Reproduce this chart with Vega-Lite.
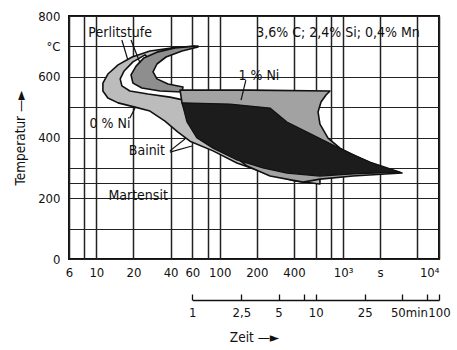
{
  "$schema": "https://vega.github.io/schema/vega-lite/v6.json",
  "width": 370,
  "height": 243,
  "autosize": "none",
  "padding": {"left": 69, "top": 16, "right": 18, "bottom": 91},
  "background": "white",
  "config": {
    "font": "DejaVu Sans Condensed",
    "view": {"stroke": "#111", "strokeWidth": 2}
  },
  "datasets": {
    "shapes": [
      {"shape": "light", "i": 1, "t": 63.0, "T": 701},
      {"shape": "light", "i": 2, "t": 41.8, "T": 695},
      {"shape": "light", "i": 3, "t": 27.2, "T": 685},
      {"shape": "light", "i": 4, "t": 19.5, "T": 665},
      {"shape": "light", "i": 5, "t": 15.0, "T": 639},
      {"shape": "light", "i": 6, "t": 12.4, "T": 609},
      {"shape": "light", "i": 7, "t": 11.3, "T": 579},
      {"shape": "light", "i": 8, "t": 11.3, "T": 553},
      {"shape": "light", "i": 9, "t": 12.4, "T": 530},
      {"shape": "light", "i": 10, "t": 15.0, "T": 514},
      {"shape": "light", "i": 11, "t": 20.6, "T": 500},
      {"shape": "light", "i": 12, "t": 27.2, "T": 487},
      {"shape": "light", "i": 13, "t": 36.0, "T": 454},
      {"shape": "light", "i": 14, "t": 45.9, "T": 418},
      {"shape": "light", "i": 15, "t": 57.4, "T": 388},
      {"shape": "light", "i": 16, "t": 88.3, "T": 356},
      {"shape": "light", "i": 17, "t": 138, "T": 316},
      {"shape": "light", "i": 18, "t": 233, "T": 283},
      {"shape": "light", "i": 19, "t": 408, "T": 257},
      {"shape": "light", "i": 20, "t": 650, "T": 247},
      {"shape": "light", "i": 21, "t": 650, "T": 273},
      {"shape": "light", "i": 22, "t": 351, "T": 286},
      {"shape": "light", "i": 23, "t": 224, "T": 306},
      {"shape": "light", "i": 24, "t": 138, "T": 332},
      {"shape": "light", "i": 25, "t": 88.3, "T": 372},
      {"shape": "light", "i": 26, "t": 65.5, "T": 405},
      {"shape": "light", "i": 27, "t": 55.3, "T": 458},
      {"shape": "light", "i": 28, "t": 51.4, "T": 510},
      {"shape": "light", "i": 29, "t": 50.4, "T": 540},
      {"shape": "light", "i": 30, "t": 39.5, "T": 566},
      {"shape": "light", "i": 31, "t": 31.6, "T": 583},
      {"shape": "light", "i": 32, "t": 27.2, "T": 606},
      {"shape": "light", "i": 33, "t": 28.3, "T": 635},
      {"shape": "light", "i": 34, "t": 34.1, "T": 662},
      {"shape": "light", "i": 35, "t": 47.7, "T": 685},

      {"shape": "white", "i": 1, "t": 24.8, "T": 672},
      {"shape": "white", "i": 2, "t": 19.8, "T": 649},
      {"shape": "white", "i": 3, "t": 16.8, "T": 619},
      {"shape": "white", "i": 4, "t": 15.6, "T": 593},
      {"shape": "white", "i": 5, "t": 16.1, "T": 570},
      {"shape": "white", "i": 6, "t": 18.7, "T": 553},
      {"shape": "white", "i": 7, "t": 26.2, "T": 543},
      {"shape": "white", "i": 8, "t": 39.5, "T": 533},
      {"shape": "white", "i": 9, "t": 51.4, "T": 523},
      {"shape": "white", "i": 10, "t": 53.3, "T": 550},
      {"shape": "white", "i": 11, "t": 32.8, "T": 573},
      {"shape": "white", "i": 12, "t": 22.6, "T": 606},
      {"shape": "white", "i": 13, "t": 27.2, "T": 655},

      {"shape": "mid", "i": 1, "t": 66.7, "T": 701},
      {"shape": "mid", "i": 2, "t": 43.4, "T": 695},
      {"shape": "mid", "i": 3, "t": 31.0, "T": 681},
      {"shape": "mid", "i": 4, "t": 24.3, "T": 662},
      {"shape": "mid", "i": 5, "t": 21.0, "T": 635},
      {"shape": "mid", "i": 6, "t": 19.1, "T": 606},
      {"shape": "mid", "i": 7, "t": 19.8, "T": 579},
      {"shape": "mid", "i": 8, "t": 23.4, "T": 563},
      {"shape": "mid", "i": 9, "t": 32.8, "T": 553},
      {"shape": "mid", "i": 10, "t": 49.5, "T": 550},
      {"shape": "mid", "i": 11, "t": 50.4, "T": 566},
      {"shape": "mid", "i": 12, "t": 38.1, "T": 576},
      {"shape": "mid", "i": 13, "t": 31.0, "T": 593},
      {"shape": "mid", "i": 14, "t": 28.8, "T": 616},
      {"shape": "mid", "i": 15, "t": 31.0, "T": 642},
      {"shape": "mid", "i": 16, "t": 36.7, "T": 665},
      {"shape": "mid", "i": 17, "t": 49.5, "T": 685},
      {"shape": "mid", "i": 18, "t": 66.7, "T": 698},

      {"shape": "plateau", "i": 1, "t": 47.7, "T": 556},
      {"shape": "plateau", "i": 2, "t": 176, "T": 556},
      {"shape": "plateau", "i": 3, "t": 784, "T": 553},
      {"shape": "plateau", "i": 4, "t": 728, "T": 540},
      {"shape": "plateau", "i": 5, "t": 663, "T": 517},
      {"shape": "plateau", "i": 6, "t": 627, "T": 484},
      {"shape": "plateau", "i": 7, "t": 650, "T": 444},
      {"shape": "plateau", "i": 8, "t": 756, "T": 398},
      {"shape": "plateau", "i": 9, "t": 945, "T": 365},
      {"shape": "plateau", "i": 10, "t": 1299, "T": 336},
      {"shape": "plateau", "i": 11, "t": 1995, "T": 303},
      {"shape": "plateau", "i": 12, "t": 3007, "T": 283},
      {"shape": "plateau", "i": 13, "t": 1205, "T": 273},
      {"shape": "plateau", "i": 14, "t": 650, "T": 263},
      {"shape": "plateau", "i": 15, "t": 474, "T": 253},
      {"shape": "plateau", "i": 16, "t": 256, "T": 273},
      {"shape": "plateau", "i": 17, "t": 167, "T": 306},
      {"shape": "plateau", "i": 18, "t": 138, "T": 332},
      {"shape": "plateau", "i": 19, "t": 69.2, "T": 398},
      {"shape": "plateau", "i": 20, "t": 55.3, "T": 464},
      {"shape": "plateau", "i": 21, "t": 49.5, "T": 514},

      {"shape": "dark", "i": 1, "t": 49.5, "T": 514},
      {"shape": "dark", "i": 2, "t": 121, "T": 510},
      {"shape": "dark", "i": 3, "t": 256, "T": 497},
      {"shape": "dark", "i": 4, "t": 351, "T": 451},
      {"shape": "dark", "i": 5, "t": 571, "T": 408},
      {"shape": "dark", "i": 6, "t": 1000, "T": 359},
      {"shape": "dark", "i": 7, "t": 1655, "T": 319},
      {"shape": "dark", "i": 8, "t": 2898, "T": 286},
      {"shape": "dark", "i": 9, "t": 1205, "T": 280},
      {"shape": "dark", "i": 10, "t": 650, "T": 273},
      {"shape": "dark", "i": 11, "t": 351, "T": 283},
      {"shape": "dark", "i": 12, "t": 224, "T": 300},
      {"shape": "dark", "i": 13, "t": 138, "T": 326},
      {"shape": "dark", "i": 14, "t": 88.3, "T": 365},
      {"shape": "dark", "i": 15, "t": 65.5, "T": 398},
      {"shape": "dark", "i": 16, "t": 54.3, "T": 451}
    ],
    "pointers": [
      {"line": "p1", "i": 1, "t": 16.1, "T": 721},
      {"line": "p1", "i": 2, "t": 18.0, "T": 655},
      {"line": "p2", "i": 1, "t": 19.1, "T": 721},
      {"line": "p2", "i": 2, "t": 22.6, "T": 645},
      {"line": "p3", "i": 1, "t": 163, "T": 589},
      {"line": "p3", "i": 2, "t": 149, "T": 523},
      {"line": "p4", "i": 1, "t": 18.7, "T": 464},
      {"line": "p4", "i": 2, "t": 20.6, "T": 497},
      {"line": "p5", "i": 1, "t": 39.5, "T": 356},
      {"line": "p5", "i": 2, "t": 52.3, "T": 395},
      {"line": "p6", "i": 1, "t": 39.5, "T": 352},
      {"line": "p6", "i": 2, "t": 59.6, "T": 372}
    ],
    "labels": [
      {"label": "Perlitstufe", "t": 15.6, "T": 744},
      {"label": "3,6% C; 2,4% Si; 0,4% Mn", "t": 911, "T": 744},
      {"label": "1 % Ni", "t": 208, "T": 602},
      {"label": "0 % Ni", "t": 12.9, "T": 444},
      {"label": "Bainit", "t": 25.7, "T": 356},
      {"label": "Martensit", "t": 21.8, "T": 207}
    ],
    "minutes": [{"m": 1}, {"m": 100}]
  },
  "layer": [
    {
      "layer": [
        {
          "data": {"name": "shapes"},
          "transform": [{"filter": "datum.shape == 'light'"}],
          "mark": {"type": "line", "interpolate": "linear-closed", "fill": "#bcbcbc", "stroke": "#111", "strokeWidth": 1.6, "strokeJoin": "round"},
          "encoding": {
            "x": {
              "field": "t", "type": "quantitative",
              "scale": {"type": "log", "domain": [6, 6000], "nice": false},
              "axis": {
                "values": [6, 8, 10, 20, 40, 60, 80, 100, 200, 400, 600, 800, 1000, 2000, 4000, 6000],
                "tickCount": 100,
                "labelExpr": "datum.value == 1000 ? '10³' : datum.value == 2000 ? 's' : datum.value == 6000 ? '10⁴' : indexof([8, 80, 600, 800, 4000], datum.value) >= 0 ? '' : datum.label",
                "labelAlign": {"condition": {"test": "datum.value == 6000", "value": "right"}, "value": "center"},
                "grid": true, "gridColor": "#222", "gridWidth": 1.5,
                "ticks": false, "domain": false,
                "labelOverlap": false, "labelFlush": false,
                "labelFontSize": 13, "labelColor": "#111", "labelPadding": 7,
                "title": "Zeit —►", "titleFontSize": 13.5, "titleFontWeight": "normal", "titleColor": "#111", "titlePadding": 51
              }
            },
            "y": {
              "field": "T", "type": "quantitative",
              "scale": {"domain": [0, 800], "nice": false},
              "axis": {
                "values": [0, 100, 200, 250, 300, 400, 500, 600, 700, 800],
                "tickCount": 100,
                "labelExpr": "datum.value == 700 ? '°C' : datum.value == 0 ? '0' : datum.value == 200 ? '200' : datum.value == 400 ? '400' : datum.value == 600 ? '600' : datum.value == 800 ? '800' : ''",
                "grid": true, "gridColor": "#222", "gridWidth": 1.2,
                "ticks": false, "domain": false,
                "labelFlush": false, "labelOverlap": false,
                "labelFontSize": 13, "labelColor": "#111", "labelPadding": 9,
                "title": "Temperatur —►", "titleFontSize": 13.5, "titleFontWeight": "normal", "titleColor": "#111", "titlePadding": 10
              }
            },
            "order": {"field": "i"}
          }
        },
        {
          "data": {"name": "shapes"},
          "transform": [{"filter": "datum.shape == 'white'"}],
          "mark": {"type": "line", "interpolate": "linear-closed", "fill": "white", "stroke": "#111", "strokeWidth": 1.6, "strokeJoin": "round"},
          "encoding": {
            "x": {"field": "t", "type": "quantitative"},
            "y": {"field": "T", "type": "quantitative"},
            "order": {"field": "i"}
          }
        },
        {
          "data": {"name": "shapes"},
          "transform": [{"filter": "datum.shape == 'mid'"}],
          "mark": {"type": "line", "interpolate": "linear-closed", "fill": "#8e8e8e", "stroke": "#111", "strokeWidth": 1.6, "strokeJoin": "round"},
          "encoding": {
            "x": {"field": "t", "type": "quantitative"},
            "y": {"field": "T", "type": "quantitative"},
            "order": {"field": "i"}
          }
        },
        {
          "data": {"name": "shapes"},
          "transform": [{"filter": "datum.shape == 'plateau'"}],
          "mark": {"type": "line", "interpolate": "linear-closed", "fill": "#a2a2a2", "stroke": "#111", "strokeWidth": 1.6, "strokeJoin": "round"},
          "encoding": {
            "x": {"field": "t", "type": "quantitative"},
            "y": {"field": "T", "type": "quantitative"},
            "order": {"field": "i"}
          }
        },
        {
          "data": {"name": "shapes"},
          "transform": [{"filter": "datum.shape == 'dark'"}],
          "mark": {"type": "line", "interpolate": "linear-closed", "fill": "#1c1c1c", "stroke": "#111", "strokeWidth": 1.2, "strokeJoin": "round"},
          "encoding": {
            "x": {"field": "t", "type": "quantitative"},
            "y": {"field": "T", "type": "quantitative"},
            "order": {"field": "i"}
          }
        },
        {
          "data": {"name": "pointers"},
          "mark": {"type": "line", "stroke": "#111", "strokeWidth": 1.2},
          "encoding": {
            "x": {"field": "t", "type": "quantitative"},
            "y": {"field": "T", "type": "quantitative"},
            "detail": {"field": "line"},
            "order": {"field": "i"}
          }
        },
        {
          "data": {"name": "labels"},
          "mark": {"type": "text", "fontSize": 14, "color": "#111", "align": "center", "baseline": "middle"},
          "encoding": {
            "x": {"field": "t", "type": "quantitative"},
            "y": {"field": "T", "type": "quantitative"},
            "text": {"field": "label"}
          }
        }
      ]
    },
    {
      "data": {"name": "minutes"},
      "mark": {"type": "point", "opacity": 0},
      "encoding": {
        "x": {
          "field": "m", "type": "quantitative",
          "scale": {"type": "log", "domain": [1, 100], "range": [123.33, 370], "nice": false},
          "axis": {
            "orient": "bottom", "offset": 41,
            "values": [1, 2.5, 5, 8, 10, 25, 50, 80, 100],
            "tickCount": 100,
            "labelExpr": "datum.value == 2.5 ? '2,5' : datum.value == 50 ? '50min' : (datum.value == 8 || datum.value == 80) ? '' : datum.label",
            "labelOffset": {"condition": {"test": "datum.value == 50", "value": 7}, "value": 0},
            "grid": false, "tickSize": -6, "tickColor": "#111", "tickWidth": 1.3,
            "domainColor": "#111", "domainWidth": 1.5,
            "labelOverlap": false, "labelFlush": false,
            "labelFontSize": 13, "labelColor": "#111", "labelPadding": 12,
            "title": null
          }
        },
        "y": {"datum": 0, "type": "quantitative"}
      }
    }
  ],
  "resolve": {"scale": {"x": "independent"}, "axis": {"x": "independent"}}
}
